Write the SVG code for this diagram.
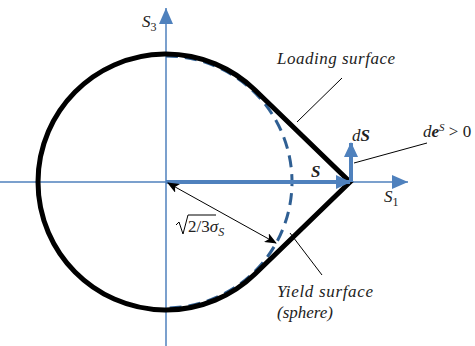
<svg xmlns="http://www.w3.org/2000/svg" width="475" height="346" viewBox="0 0 475 346">
<defs>
<marker id="ax" markerUnits="userSpaceOnUse" markerWidth="16" markerHeight="14" refX="16" refY="7" orient="auto"><path d="M0,0 L16,7 L0,14 Z" fill="#4f81bd"/></marker>
<marker id="vh" markerUnits="userSpaceOnUse" markerWidth="15" markerHeight="14" refX="14" refY="7" orient="auto"><path d="M0,0 L15,7 L0,14 Z" fill="#4f81bd"/></marker>
<marker id="bh" markerUnits="userSpaceOnUse" markerWidth="12" markerHeight="10" refX="11" refY="5" orient="auto-start-reverse"><path d="M0,0 L12,5 L0,10 L3,5 Z" fill="#000"/></marker>
</defs>
<g id="connectors" fill="none">
<line stroke="#4f81bd" stroke-width="1.5" x1="166" y1="346" x2="166" y2="8" marker-end="url(#ax)"/>
<line stroke="#4f81bd" stroke-width="1.5" x1="0" y1="182" x2="408" y2="182" marker-end="url(#ax)"/>
</g>
<g id="yield-surface">
<path d="M166,56 A126,126 0 0 1 166,308" fill="none" stroke="#2f5f93" stroke-width="3" stroke-dasharray="12,7"/>
</g>
<g id="loading-surface">
<path d="M255,90 A128,128 0 1 0 255,274 L350,182 Z" fill="none" stroke="#000" stroke-width="5" stroke-linejoin="miter"/>
</g>
<g id="vectors" fill="none">
<line stroke="#4f81bd" stroke-width="4" x1="166" y1="182" x2="350" y2="182" marker-end="url(#vh)"/>
<line stroke="#4f81bd" stroke-width="4" x1="351" y1="182" x2="351" y2="143" marker-end="url(#vh)"/>
<line stroke="#000" stroke-width="1" x1="168" y1="183" x2="276" y2="243" marker-start="url(#bh)" marker-end="url(#bh)"/>
<line stroke="#000" stroke-width="1" x1="342" y1="78" x2="297" y2="122"/>
<line stroke="#000" stroke-width="1" x1="354" y1="163" x2="427" y2="143"/>
<line stroke="#000" stroke-width="1" x1="290" y1="233" x2="322" y2="275"/>
</g>
<g id="labels" font-family="Liberation Serif" font-style="italic" font-size="17" fill="#222">
<text x="142" y="27">S<tspan font-style="normal" font-size="12" dy="4">3</tspan></text>
<text x="384" y="202">S<tspan font-style="normal" font-size="12" dy="4">1</tspan></text>
<text x="277" y="64" textLength="118">Loading surface</text>
<text x="311" y="177" font-weight="bold">S</text>
<text x="352" y="141">d<tspan font-weight="bold">S</tspan></text>
<text x="423" y="137">d<tspan font-weight="bold">e</tspan><tspan font-size="11" dy="-6">S</tspan><tspan font-style="normal" dy="6"> &gt; 0</tspan></text>
<text x="277" y="297" textLength="96">Yield surface</text>
<text x="277" y="318">(sphere)</text>
<path d="M176,225 L179,222 L183,234 L188,215 L216,215" fill="none" stroke="#000" stroke-width="1"/>
<text x="188" y="232"><tspan font-style="normal">2/3</tspan>&#963;<tspan font-size="12" dy="4">S</tspan></text>
</g>
</svg>
